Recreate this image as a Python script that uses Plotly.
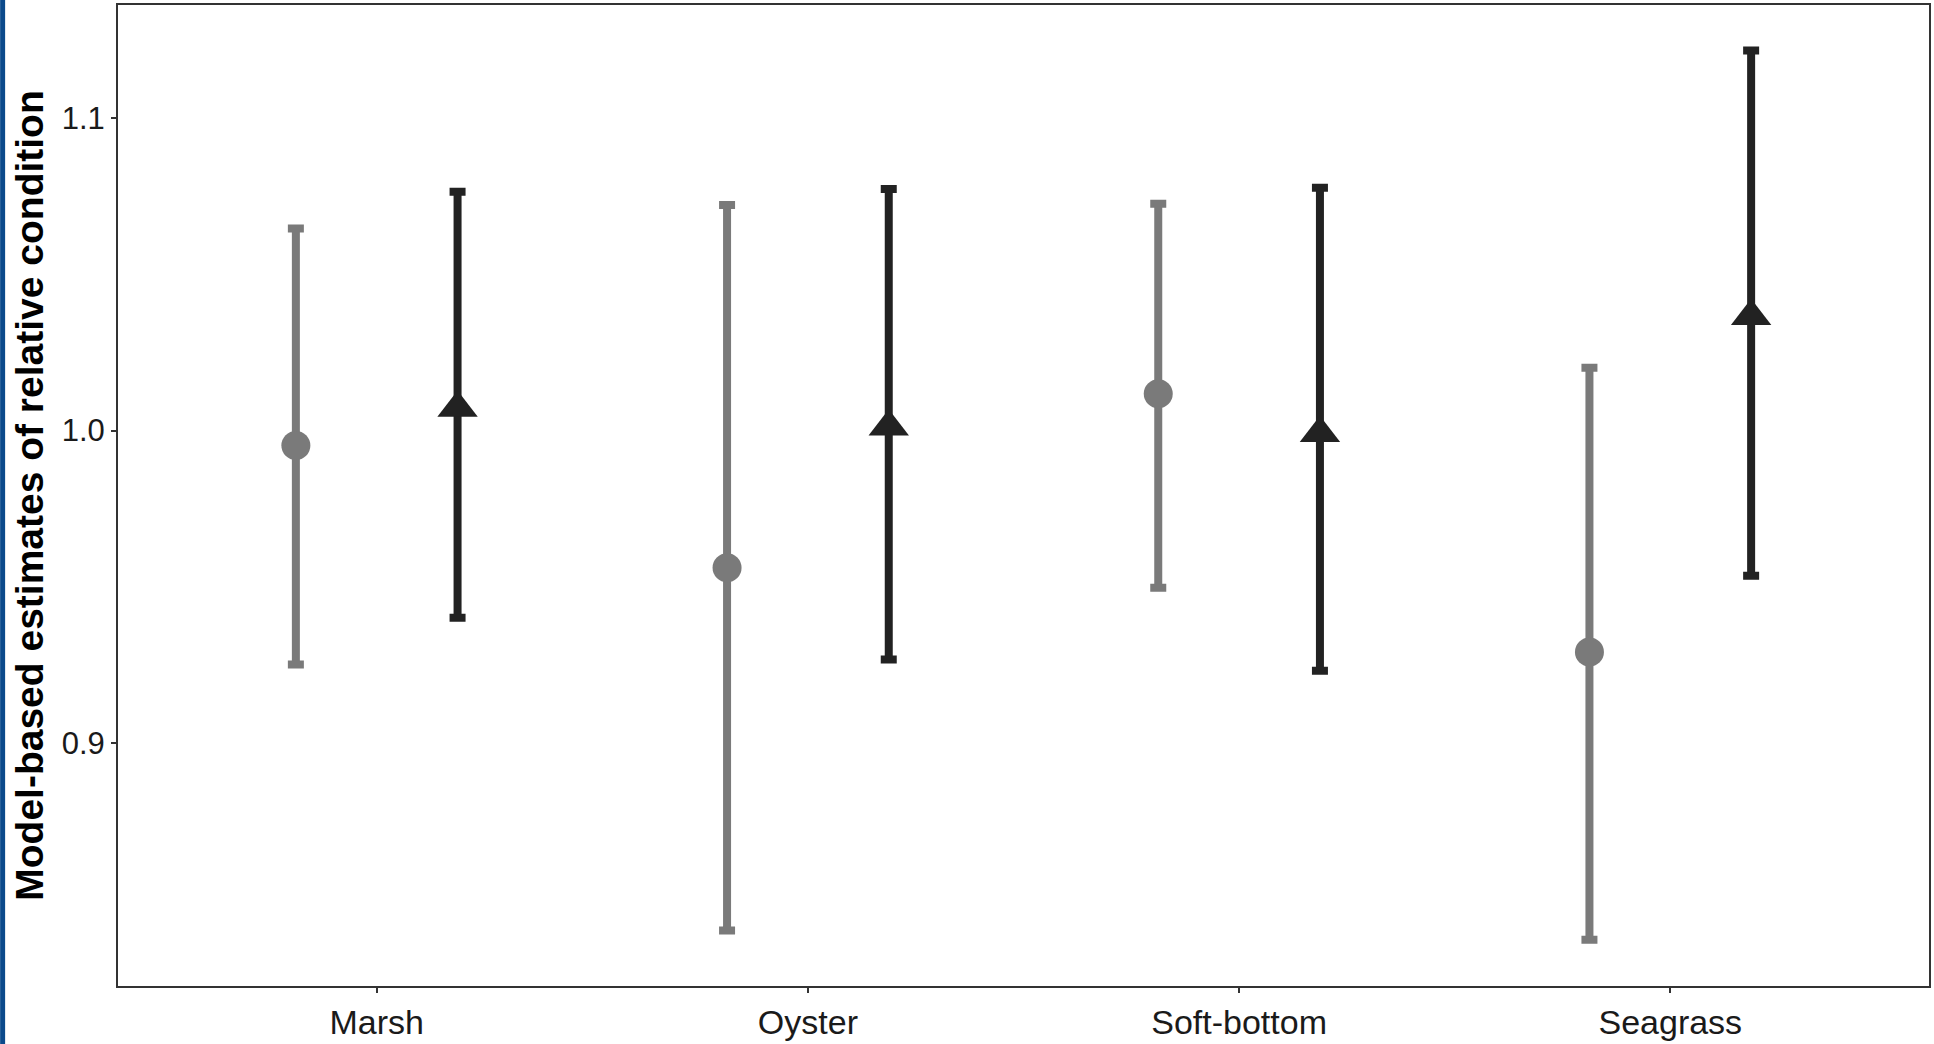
import plotly.graph_objects as go

categories = ["Marsh", "Oyster", "Soft-bottom", "Seagrass"]

# Series 1 (grey circles)
grey_est = [0.9952, 0.9561, 1.0118, 0.9291]
grey_upper = [1.0647, 1.0722, 1.0726, 1.0201]
grey_lower = [0.9251, 0.8400, 0.9497, 0.8370]

# Series 2 (black triangles)
black_est = [1.0072, 1.0012, 0.9991, 1.0366]
black_upper = [1.0764, 1.0773, 1.0777, 1.1216]
black_lower = [0.9401, 0.9267, 0.9231, 0.9535]

y_ticks = [0.9, 1.0, 1.1]
y_tick_labels = ["0.9", "1.0", "1.1"]

dodge = 0.1875
xpos = list(range(1, len(categories) + 1))

GREY = "#7a7a7a"
BLACK = "#222222"

fig = go.Figure()

def add_series(est, upper, lower, offset, color, symbol, size):
    fig.add_trace(go.Scatter(
        x=[p + offset for p in xpos],
        y=est,
        mode="markers",
        marker=dict(color=color, symbol=symbol, size=size, line=dict(width=0)),
        error_y=dict(
            type="data",
            symmetric=False,
            array=[u - e for u, e in zip(upper, est)],
            arrayminus=[e - l for e, l in zip(est, lower)],
            color=color,
            thickness=8,
            width=8,
        ),
        showlegend=False,
    ))

add_series(grey_est, grey_upper, grey_lower, -dodge, GREY, "circle", 29)
add_series(black_est, black_upper, black_lower, dodge, BLACK, "triangle-up", 35)

W, H = 1934, 1044
ml, mr, mt, mb = 118, 3, 4, 50
pw = W - ml - mr
ph = H - mt - mb

fig.update_layout(
    width=W, height=H,
    margin=dict(l=ml, r=mr, t=mt, b=mb),
    paper_bgcolor="white",
    plot_bgcolor="white",
    font=dict(family="Liberation Sans, Arial, sans-serif", color="#1a1a1a"),
    xaxis=dict(
        range=[0.4, 4.6],
        tickvals=xpos,
        ticktext=categories,
        showgrid=False, zeroline=False,
        showline=True, linecolor="#333333", linewidth=2, mirror=True,
        ticks="outside", ticklen=5, tickwidth=1.5, tickcolor="#333333",
        tickfont=dict(size=34, color="#1a1a1a"),
    ),
    yaxis=dict(
        range=[0.8222, 1.1362],
        tickvals=y_ticks,
        ticktext=y_tick_labels,
        showgrid=False, zeroline=False,
        showline=True, linecolor="#333333", linewidth=2, mirror=True,
        ticks="outside", ticklen=5, tickwidth=1.5, tickcolor="#333333",
        tickfont=dict(size=31, color="#1a1a1a"),
        title=dict(
            text="<b>Model-based estimates of relative condition</b>",
            font=dict(size=39, color="#000000"),
            standoff=6,
        ),
    ),
    shapes=[dict(
        type="rect", xref="paper", yref="paper",
        x0=-ml / pw, x1=-(ml - 5) / pw,
        y0=-(mb + 20) / ph, y1=1 + (mt + 10) / ph,
        fillcolor="#0b4a8b", line=dict(width=0), layer="above",
    )],
)

fig.write_html(
    "out.html",
    config={"displayModeBar": False},
    post_script="document.body.style.margin='0';document.body.style.overflow='hidden';",
)
